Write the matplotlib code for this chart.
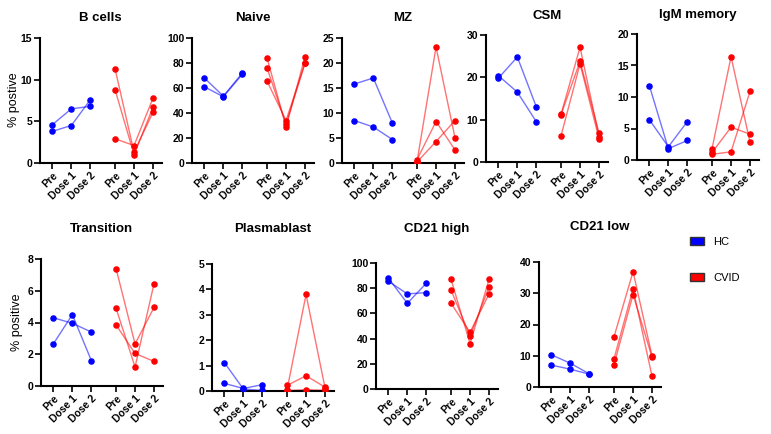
import matplotlib
matplotlib.use("Agg")
import matplotlib.pyplot as plt
from matplotlib.patches import Patch

plt.rcParams['font.family'] = ['Liberation Sans', 'DejaVu Sans']

categories = ["Pre", "Dose 1", "Dose 2", "Pre", "Dose 1", "Dose 2"]
hc_pos = [0, 1, 2]
cvid_pos = [3.3, 4.3, 5.3]

titles = ["B cells", "Naive", "MZ", "CSM", "IgM memory",
          "Transition", "Plasmablast", "CD21 high", "CD21 low"]

hc_bcells = [[4.6, 6.5, 6.8], [3.8, 4.5, 7.6]]
cvid_bcells = [[11.3, 1.3, 6.1], [8.8, 1.0, 6.7], [2.9, 2.1, 7.8]]
hc_naive = [[68, 53.5, 72], [61, 53, 71]]
cvid_naive = [[84, 29, 85], [76, 31, 80], [65.5, 34, 80]]
hc_mz = [[15.8, 17.0, 8.0], [8.5, 7.2, 4.7]]
cvid_mz = [[0.3, 23.2, 5.0], [0.7, 8.3, 2.6], [0.2, 4.3, 8.5]]
hc_csm = [[19.8, 24.8, 13.0], [20.4, 16.5, 9.5]]
cvid_csm = [[11.3, 27.1, 6.0], [11.2, 23.8, 6.8], [6.2, 23.2, 5.5]]
hc_igm = [[11.8, 1.8, 3.1], [6.4, 2.1, 6.1]]
cvid_igm = [[1.8, 16.4, 2.8], [1.2, 5.2, 4.1], [0.9, 1.3, 10.9]]
hc_trans = [[4.3, 3.95, 3.4], [2.65, 4.5, 1.6]]
cvid_trans = [[7.4, 2.65, 4.95], [4.9, 1.2, 6.45], [3.85, 2.05, 1.55]]
hc_plasma = [[1.12, 0.08, 0.02], [0.3, 0.1, 0.25]]
cvid_plasma = [[0.05, 3.8, 0.12], [0.22, 0.6, 0.15], [0.02, 0.05, 0.03]]
hc_cd21h = [[88, 68, 84], [85.5, 75.5, 76.5]]
cvid_cd21h = [[87, 36, 87], [78.5, 42, 81], [68, 45, 75.5]]
hc_cd21l = [[10.3, 7.6, 4.2], [7.0, 5.7, 4.1]]
cvid_cd21l = [[16.1, 36.9, 9.9], [9.1, 31.4, 3.4], [7.2, 29.6, 9.5]]

hc_data = [hc_bcells, hc_naive, hc_mz, hc_csm, hc_igm,
           hc_trans, hc_plasma, hc_cd21h, hc_cd21l]
cvid_data = [cvid_bcells, cvid_naive, cvid_mz, cvid_csm, cvid_igm,
             cvid_trans, cvid_plasma, cvid_cd21h, cvid_cd21l]
yticks = [[0, 5, 10, 15], [0, 20, 40, 60, 80, 100], [0, 5, 10, 15, 20, 25],
          [0, 10, 20, 30], [0, 5, 10, 15, 20], [0, 2, 4, 6, 8],
          [0, 1, 2, 3, 4, 5], [0, 20, 40, 60, 80, 100], [0, 10, 20, 30, 40]]

W, H = 771, 434
fig = plt.figure(figsize=(W / 100, H / 100), dpi=100)

# pixel layout: (axis x, top y, bottom y, title y)
layout = [(40, 38, 163, 18), (192, 38, 163, 18), (342, 38, 163, 18),
          (486, 35, 162, 16), (637, 34, 160, 15),
          (41, 259, 386, 229), (212, 264, 391, 229), (376, 263, 389, 229),
          (539, 262, 387, 227)]
unit = 19.0
xlo, xhi = -0.65, 5.75

HC_COL = '#0000FF'
CVID_COL = '#FF0000'

for i in range(9):
    x0, yt, yb, ty = layout[i]
    w = (xhi - xlo) * unit
    ax = fig.add_axes([x0 / W, 1 - yb / H, w / W, (yb - yt) / H])
    for s in hc_data[i]:
        ax.plot(hc_pos, s, color=HC_COL, alpha=0.55, lw=1.0, zorder=2)
        ax.plot(hc_pos, s, ls='none', marker='o', ms=3.7, color=HC_COL, zorder=3)
    for s in cvid_data[i]:
        ax.plot(cvid_pos, s, color=CVID_COL, alpha=0.55, lw=1.0, zorder=2)
        ax.plot(cvid_pos, s, ls='none', marker='o', ms=3.7, color=CVID_COL, zorder=3)
    ax.set_xlim(xlo, xhi)
    ax.set_ylim(0, yticks[i][-1])
    ax.set_yticks(yticks[i])
    ax.set_xticks(hc_pos + cvid_pos)
    ax.set_xticklabels(categories, rotation=45, ha='right', rotation_mode='anchor',
                       fontsize=7.5, fontweight='bold')
    for lab in ax.get_yticklabels():
        lab.set_fontsize(7.5)
        lab.set_fontweight('bold')
    ax.spines['top'].set_visible(False)
    ax.spines['right'].set_visible(False)
    ax.spines['left'].set_linewidth(1.5)
    ax.spines['bottom'].set_linewidth(1.5)
    ax.tick_params(axis='both', width=1.2, length=4, pad=1.5)
    ax.patch.set_alpha(0)
    cx = (x0 + w / 2) / W
    fig.text(cx, 1 - ty / H, titles[i], ha='center', va='center',
             fontsize=9.5, fontweight='bold')

fig.text(14 / W, 1 - 100 / H, "% postive", rotation=90, ha='center', va='center',
         fontsize=9)
fig.text(17 / W, 1 - 322 / H, "% positive", rotation=90, ha='center', va='center',
         fontsize=9)

handles = [Patch(facecolor=HC_COL, edgecolor='#333333', lw=1),
           Patch(facecolor=CVID_COL, edgecolor='#333333', lw=1)]
fig.legend(handles, ["HC", "CVID"], loc='center left',
           bbox_to_anchor=(680 / W, 1 - 260 / H), frameon=False,
           fontsize=8, labelspacing=2.3, handlelength=1.3, handleheight=0.7,
           handletextpad=0.8)

fig.savefig("out.png", dpi=100)
